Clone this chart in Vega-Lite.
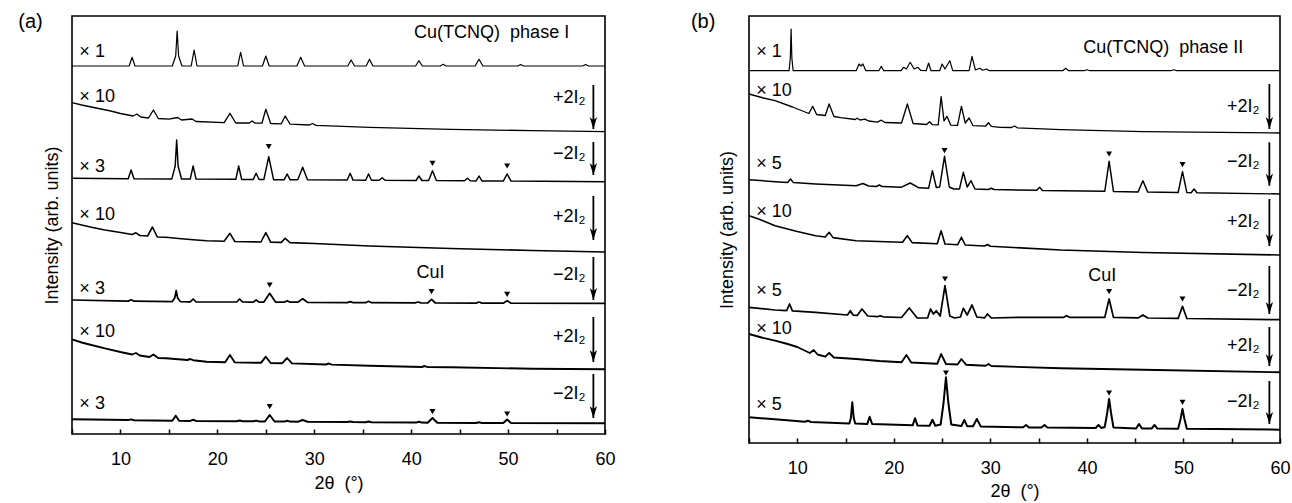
{
"$schema":"https://vega.github.io/schema/vega-lite/v6.json",
"padding":{"left":17,"top":11,"right":5,"bottom":0},
"spacing":74,
"config":{"font":"Liberation Sans","view":{"stroke":"black","strokeWidth":1.6},
 "axis":{"grid":false,"domain":false,"labelColor":"black","titleColor":"black","tickColor":"black","labelFont":"Liberation Sans","titleFont":"Liberation Sans","titleFontWeight":"normal","labelFontSize":18,"titleFontSize":18},
 "text":{"color":"black","font":"Liberation Sans"}},
"datasets":{
"a":[
{"s":1,"x":5,"y":368},{"s":1,"x":10.9,"y":368},{"s":1,"x":11.2,"y":376.7},{"s":1,"x":11.5,"y":368},{"s":1,"x":15.35,"y":368},{"s":1,"x":15.7,"y":378},{"s":1,"x":15.85,"y":403},{"s":1,"x":16.0,"y":378},{"s":1,"x":16.35,"y":368},{"s":1,"x":17.3,"y":368},{"s":1,"x":17.6,"y":384},{"s":1,"x":17.9,"y":368},{"s":1,"x":22.1,"y":368},{"s":1,"x":22.4,"y":381.7},{"s":1,"x":22.7,"y":368},{"s":1,"x":24.65,"y":368},{"s":1,"x":25.0,"y":378},{"s":1,"x":25.35,"y":368},{"s":1,"x":28.2,"y":368},{"s":1,"x":28.6,"y":376.7},{"s":1,"x":29.0,"y":368},{"s":1,"x":33.45,"y":368},{"s":1,"x":33.8,"y":374},{"s":1,"x":34.15,"y":368},{"s":1,"x":35.35,"y":368},{"s":1,"x":35.7,"y":374.7},{"s":1,"x":36.05,"y":368},{"s":1,"x":40.45,"y":368},{"s":1,"x":40.8,"y":373.3},{"s":1,"x":41.15,"y":368},{"s":1,"x":43.0,"y":368},{"s":1,"x":43.3,"y":369.7},{"s":1,"x":43.6,"y":368},{"s":1,"x":46.6,"y":368},{"s":1,"x":47.0,"y":374.7},{"s":1,"x":47.4,"y":368},{"s":1,"x":51.0,"y":368},{"s":1,"x":51.3,"y":369.5},{"s":1,"x":51.6,"y":368},{"s":1,"x":57.7,"y":368},{"s":1,"x":58.0,"y":369.5},{"s":1,"x":58.3,"y":368},{"s":1,"x":60,"y":368},
{"s":2,"x":5,"y":331.3},{"s":2,"x":6,"y":329},{"s":2,"x":7,"y":327},{"s":2,"x":8,"y":325},{"s":2,"x":9,"y":323},{"s":2,"x":10,"y":320.5},{"s":2,"x":11.3,"y":318},{"s":2,"x":11.7,"y":320},{"s":2,"x":12.1,"y":317},{"s":2,"x":12.9,"y":316},{"s":2,"x":13.4,"y":324},{"s":2,"x":13.9,"y":315.5},{"s":2,"x":15,"y":314.8},{"s":2,"x":15.9,"y":316.5},{"s":2,"x":16.3,"y":314},{"s":2,"x":17.4,"y":315},{"s":2,"x":17.8,"y":312.5},{"s":2,"x":20.7,"y":311.3},{"s":2,"x":21.3,"y":320.7},{"s":2,"x":21.9,"y":311},{"s":2,"x":23.3,"y":311},{"s":2,"x":23.6,"y":313},{"s":2,"x":23.9,"y":310.8},{"s":2,"x":24.6,"y":310.8},{"s":2,"x":25.0,"y":324.7},{"s":2,"x":25.5,"y":310.5},{"s":2,"x":26.6,"y":310.2},{"s":2,"x":27.0,"y":318},{"s":2,"x":27.5,"y":309.8},{"s":2,"x":29.5,"y":309},{"s":2,"x":29.8,"y":310.5},{"s":2,"x":30.2,"y":308.6},{"s":2,"x":35.7,"y":306.7},{"s":2,"x":44.1,"y":304.7},{"s":2,"x":52.5,"y":303.3},{"s":2,"x":60,"y":302.3},
{"s":3,"x":5,"y":255.7},{"s":3,"x":10.8,"y":255.3},{"s":3,"x":11.1,"y":264},{"s":3,"x":11.4,"y":255.3},{"s":3,"x":15.3,"y":255.1},{"s":3,"x":15.65,"y":268},{"s":3,"x":15.8,"y":294},{"s":3,"x":15.95,"y":268},{"s":3,"x":16.3,"y":255},{"s":3,"x":17.2,"y":254.9},{"s":3,"x":17.5,"y":268},{"s":3,"x":17.8,"y":254.9},{"s":3,"x":21.9,"y":254.7},{"s":3,"x":22.2,"y":268},{"s":3,"x":22.5,"y":254.6},{"s":3,"x":23.7,"y":254.6},{"s":3,"x":24.0,"y":260.7},{"s":3,"x":24.3,"y":254.5},{"s":3,"x":24.8,"y":254.5},{"s":3,"x":25.3,"y":277.3},{"s":3,"x":25.8,"y":254.3},{"s":3,"x":26.9,"y":254.3},{"s":3,"x":27.2,"y":260},{"s":3,"x":27.5,"y":254.3},{"s":3,"x":28.3,"y":254.2},{"s":3,"x":28.8,"y":266.7},{"s":3,"x":29.3,"y":254.2},{"s":3,"x":33.4,"y":254},{"s":3,"x":33.7,"y":260.7},{"s":3,"x":34.0,"y":253.9},{"s":3,"x":35.3,"y":253.8},{"s":3,"x":35.6,"y":260},{"s":3,"x":35.9,"y":253.8},{"s":3,"x":36.7,"y":253.7},{"s":3,"x":37.0,"y":256.3},{"s":3,"x":37.3,"y":253.7},{"s":3,"x":40.5,"y":253.5},{"s":3,"x":40.8,"y":258},{"s":3,"x":41.1,"y":253.5},{"s":3,"x":41.8,"y":253.4},{"s":3,"x":42.2,"y":263.3},{"s":3,"x":42.6,"y":253.4},{"s":3,"x":45.5,"y":253.2},{"s":3,"x":45.8,"y":255.7},{"s":3,"x":46.1,"y":253.2},{"s":3,"x":46.7,"y":253.1},{"s":3,"x":47.0,"y":258},{"s":3,"x":47.3,"y":253.1},{"s":3,"x":49.5,"y":252.9},{"s":3,"x":49.9,"y":260},{"s":3,"x":50.3,"y":252.9},{"s":3,"x":60,"y":252.3},
{"s":4,"x":5,"y":211.3},{"s":4,"x":6,"y":209},{"s":4,"x":7,"y":206.7},{"s":4,"x":8.4,"y":204},{"s":4,"x":10,"y":201.5},{"s":4,"x":11.2,"y":199.5},{"s":4,"x":11.6,"y":201.2},{"s":4,"x":12,"y":198.5},{"s":4,"x":12.8,"y":198},{"s":4,"x":13.3,"y":207},{"s":4,"x":13.8,"y":197},{"s":4,"x":14.7,"y":196.7},{"s":4,"x":16,"y":195.5},{"s":4,"x":17.5,"y":194.3},{"s":4,"x":18.9,"y":193.3},{"s":4,"x":20.7,"y":192.8},{"s":4,"x":21.3,"y":200.7},{"s":4,"x":21.8,"y":192.5},{"s":4,"x":24.5,"y":192},{"s":4,"x":25.0,"y":201.3},{"s":4,"x":25.5,"y":191.8},{"s":4,"x":26.6,"y":191.6},{"s":4,"x":27.0,"y":195.7},{"s":4,"x":27.5,"y":191.4},{"s":4,"x":30,"y":190.5},{"s":4,"x":35.7,"y":188},{"s":4,"x":44.1,"y":185.5},{"s":4,"x":52.5,"y":183.5},{"s":4,"x":60,"y":182},
{"s":5,"x":5,"y":134},{"s":5,"x":10.8,"y":132.9},{"s":5,"x":11.1,"y":134.3},{"s":5,"x":11.4,"y":132.8},{"s":5,"x":15.35,"y":132.4},{"s":5,"x":15.6,"y":136},{"s":5,"x":15.75,"y":143.3},{"s":5,"x":15.9,"y":136},{"s":5,"x":16.2,"y":132.3},{"s":5,"x":17.2,"y":132.2},{"s":5,"x":17.5,"y":135},{"s":5,"x":17.8,"y":132.2},{"s":5,"x":22.0,"y":132},{"s":5,"x":22.3,"y":135},{"s":5,"x":22.6,"y":132},{"s":5,"x":23.7,"y":131.9},{"s":5,"x":24.0,"y":134},{"s":5,"x":24.3,"y":131.9},{"s":5,"x":24.8,"y":131.9},{"s":5,"x":25.4,"y":140.7},{"s":5,"x":26.0,"y":131.9},{"s":5,"x":26.9,"y":131.8},{"s":5,"x":27.2,"y":133.3},{"s":5,"x":27.5,"y":131.8},{"s":5,"x":28.3,"y":131.8},{"s":5,"x":28.8,"y":135.3},{"s":5,"x":29.3,"y":131.7},{"s":5,"x":33.4,"y":131.4},{"s":5,"x":33.7,"y":132.3},{"s":5,"x":34.0,"y":131.4},{"s":5,"x":35.3,"y":131.3},{"s":5,"x":35.6,"y":132.7},{"s":5,"x":35.9,"y":131.3},{"s":5,"x":40.4,"y":131.1},{"s":5,"x":40.7,"y":132},{"s":5,"x":41.0,"y":131.1},{"s":5,"x":41.7,"y":131},{"s":5,"x":42.1,"y":134.7},{"s":5,"x":42.5,"y":131},{"s":5,"x":46.7,"y":130.9},{"s":5,"x":47.0,"y":132},{"s":5,"x":47.3,"y":130.9},{"s":5,"x":49.5,"y":130.8},{"s":5,"x":49.9,"y":133.3},{"s":5,"x":50.3,"y":130.8},{"s":5,"x":60,"y":130.7},
{"s":6,"x":5,"y":94.7},{"s":6,"x":6,"y":91.5},{"s":6,"x":7,"y":89},{"s":6,"x":8.4,"y":85.7},{"s":6,"x":10,"y":82},{"s":6,"x":11.2,"y":79.5},{"s":6,"x":11.6,"y":81},{"s":6,"x":12,"y":78.5},{"s":6,"x":13,"y":77},{"s":6,"x":13.4,"y":79.5},{"s":6,"x":13.9,"y":76},{"s":6,"x":14.7,"y":75.7},{"s":6,"x":16.9,"y":74},{"s":6,"x":17.2,"y":75},{"s":6,"x":17.5,"y":73.8},{"s":6,"x":18.9,"y":72.3},{"s":6,"x":20.8,"y":71.8},{"s":6,"x":21.3,"y":79},{"s":6,"x":21.8,"y":71.6},{"s":6,"x":24.5,"y":71.2},{"s":6,"x":25.0,"y":77.3},{"s":6,"x":25.5,"y":71},{"s":6,"x":26.7,"y":70.8},{"s":6,"x":27.2,"y":76},{"s":6,"x":27.7,"y":70.6},{"s":6,"x":31.2,"y":69.5},{"s":6,"x":31.5,"y":70.5},{"s":6,"x":31.8,"y":69.4},{"s":6,"x":35.7,"y":68.3},{"s":6,"x":41.1,"y":67},{"s":6,"x":41.4,"y":68},{"s":6,"x":41.7,"y":66.9},{"s":6,"x":44.1,"y":66.7},{"s":6,"x":52.5,"y":65.3},{"s":6,"x":60,"y":64.7},
{"s":7,"x":5,"y":14.7},{"s":7,"x":10.8,"y":13.9},{"s":7,"x":11.1,"y":14.6},{"s":7,"x":11.4,"y":13.8},{"s":7,"x":15.35,"y":13.3},{"s":7,"x":15.7,"y":18.3},{"s":7,"x":16.05,"y":13.2},{"s":7,"x":17.2,"y":13.1},{"s":7,"x":17.5,"y":14.2},{"s":7,"x":17.8,"y":13.1},{"s":7,"x":22.0,"y":12.8},{"s":7,"x":22.3,"y":13.5},{"s":7,"x":22.6,"y":12.8},{"s":7,"x":23.7,"y":12.7},{"s":7,"x":24.0,"y":13.4},{"s":7,"x":24.3,"y":12.6},{"s":7,"x":24.9,"y":12.5},{"s":7,"x":25.4,"y":19},{"s":7,"x":25.9,"y":12.5},{"s":7,"x":26.9,"y":12.4},{"s":7,"x":27.2,"y":13.3},{"s":7,"x":27.5,"y":12.4},{"s":7,"x":28.3,"y":12.3},{"s":7,"x":28.8,"y":14},{"s":7,"x":29.3,"y":12.3},{"s":7,"x":33.4,"y":11.9},{"s":7,"x":33.7,"y":12.4},{"s":7,"x":34.0,"y":11.9},{"s":7,"x":35.3,"y":11.8},{"s":7,"x":35.6,"y":12.4},{"s":7,"x":35.9,"y":11.8},{"s":7,"x":40.5,"y":11.4},{"s":7,"x":40.8,"y":12.2},{"s":7,"x":41.1,"y":11.4},{"s":7,"x":41.7,"y":11.3},{"s":7,"x":42.2,"y":16},{"s":7,"x":42.7,"y":11.3},{"s":7,"x":46.7,"y":11},{"s":7,"x":47,"y":11.7},{"s":7,"x":47.3,"y":11},{"s":7,"x":49.5,"y":10.9},{"s":7,"x":49.9,"y":14.5},{"s":7,"x":50.3,"y":10.9},{"s":7,"x":60,"y":10.7}
],
"b":[
{"s":1,"x":5,"y":372.3},{"s":1,"x":9.15,"y":372.3},{"s":1,"x":9.28,"y":385},{"s":1,"x":9.36,"y":414},{"s":1,"x":9.44,"y":385},{"s":1,"x":9.57,"y":372.3},{"s":1,"x":16.1,"y":372.3},{"s":1,"x":16.4,"y":379},{"s":1,"x":16.6,"y":377},{"s":1,"x":16.8,"y":379},{"s":1,"x":17.1,"y":372.3},{"s":1,"x":18.45,"y":372.3},{"s":1,"x":18.7,"y":376.7},{"s":1,"x":18.95,"y":372.3},{"s":1,"x":20.75,"y":372.3},{"s":1,"x":21.0,"y":375.7},{"s":1,"x":21.3,"y":374},{"s":1,"x":21.7,"y":380.7},{"s":1,"x":22.1,"y":374},{"s":1,"x":22.5,"y":375.7},{"s":1,"x":22.8,"y":372.5},{"s":1,"x":23.35,"y":372.3},{"s":1,"x":23.6,"y":380},{"s":1,"x":23.85,"y":372.3},{"s":1,"x":24.75,"y":372.3},{"s":1,"x":25.0,"y":379},{"s":1,"x":25.3,"y":374},{"s":1,"x":25.8,"y":382.3},{"s":1,"x":26.1,"y":372.3},{"s":1,"x":27.8,"y":372.3},{"s":1,"x":28.1,"y":386.7},{"s":1,"x":28.45,"y":373},{"s":1,"x":28.9,"y":374.7},{"s":1,"x":29.2,"y":372.8},{"s":1,"x":29.6,"y":374},{"s":1,"x":29.9,"y":372.3},{"s":1,"x":37.5,"y":372.3},{"s":1,"x":37.8,"y":374.7},{"s":1,"x":38.1,"y":372.3},{"s":1,"x":39.7,"y":372.3},{"s":1,"x":40.0,"y":373.3},{"s":1,"x":40.3,"y":372.3},{"s":1,"x":48.7,"y":372.3},{"s":1,"x":49.0,"y":373.3},{"s":1,"x":49.3,"y":372.3},{"s":1,"x":60,"y":372.3},
{"s":2,"x":5,"y":349},{"s":2,"x":6.5,"y":345},{"s":2,"x":7.7,"y":342.3},{"s":2,"x":9.5,"y":336},{"s":2,"x":11.2,"y":329.5},{"s":2,"x":11.6,"y":336.7},{"s":2,"x":12.0,"y":328.5},{"s":2,"x":12.9,"y":327.5},{"s":2,"x":13.3,"y":339},{"s":2,"x":13.8,"y":326.5},{"s":2,"x":14.5,"y":325.3},{"s":2,"x":16.0,"y":323.5},{"s":2,"x":16.2,"y":324.8},{"s":2,"x":16.5,"y":323},{"s":2,"x":17.0,"y":323.8},{"s":2,"x":17.4,"y":322},{"s":2,"x":18.3,"y":320.9},{"s":2,"x":18.7,"y":322.8},{"s":2,"x":19.1,"y":320.5},{"s":2,"x":20.8,"y":320},{"s":2,"x":21.4,"y":339},{"s":2,"x":22.0,"y":319.5},{"s":2,"x":23.4,"y":318.5},{"s":2,"x":23.7,"y":321.3},{"s":2,"x":24.0,"y":318.3},{"s":2,"x":24.6,"y":318.2},{"s":2,"x":24.9,"y":346.3},{"s":2,"x":25.2,"y":322},{"s":2,"x":25.5,"y":326.7},{"s":2,"x":25.9,"y":317.8},{"s":2,"x":26.6,"y":317.7},{"s":2,"x":27.0,"y":336.7},{"s":2,"x":27.4,"y":320},{"s":2,"x":27.8,"y":325},{"s":2,"x":28.2,"y":317.3},{"s":2,"x":29.5,"y":316.8},{"s":2,"x":29.8,"y":320.3},{"s":2,"x":30.1,"y":316.6},{"s":2,"x":31,"y":315.7},{"s":2,"x":32.2,"y":315.5},{"s":2,"x":32.5,"y":317},{"s":2,"x":32.8,"y":315.2},{"s":2,"x":37.3,"y":313.3},{"s":2,"x":45.8,"y":311.3},{"s":2,"x":60,"y":310},
{"s":3,"x":5,"y":263.3},{"s":3,"x":7.7,"y":261.3},{"s":3,"x":9.0,"y":260.6},{"s":3,"x":9.3,"y":264},{"s":3,"x":9.6,"y":260.4},{"s":3,"x":11.9,"y":259},{"s":3,"x":16.1,"y":257.3},{"s":3,"x":16.8,"y":259.5},{"s":3,"x":17.4,"y":257},{"s":3,"x":18.2,"y":256.5},{"s":3,"x":18.5,"y":258},{"s":3,"x":18.8,"y":256.4},{"s":3,"x":20.8,"y":255.8},{"s":3,"x":21.7,"y":260},{"s":3,"x":22.6,"y":255.2},{"s":3,"x":23.6,"y":254.7},{"s":3,"x":24.0,"y":272.3},{"s":3,"x":24.4,"y":255.5},{"s":3,"x":24.75,"y":256},{"s":3,"x":25.25,"y":286.7},{"s":3,"x":25.75,"y":256},{"s":3,"x":26.2,"y":254},{"s":3,"x":26.8,"y":254},{"s":3,"x":27.2,"y":270.7},{"s":3,"x":27.6,"y":256},{"s":3,"x":28.0,"y":262.3},{"s":3,"x":28.4,"y":254},{"s":3,"x":29.8,"y":253.5},{"s":3,"x":30.1,"y":254.7},{"s":3,"x":30.4,"y":253.5},{"s":3,"x":34.8,"y":252.7},{"s":3,"x":35.1,"y":255.7},{"s":3,"x":35.4,"y":252.6},{"s":3,"x":41.85,"y":251.7},{"s":3,"x":42.3,"y":281.7},{"s":3,"x":42.75,"y":251.6},{"s":3,"x":45.3,"y":251.1},{"s":3,"x":45.8,"y":262.3},{"s":3,"x":46.3,"y":250.9},{"s":3,"x":49.45,"y":250.5},{"s":3,"x":49.9,"y":271.3},{"s":3,"x":50.35,"y":250.4},{"s":3,"x":50.8,"y":250.3},{"s":3,"x":51.1,"y":254},{"s":3,"x":51.4,"y":250.2},{"s":3,"x":60,"y":249},
{"s":4,"x":5,"y":227.3},{"s":4,"x":6,"y":224},{"s":4,"x":7.7,"y":217.3},{"s":4,"x":10,"y":211.5},{"s":4,"x":11.9,"y":207.3},{"s":4,"x":12.9,"y":206},{"s":4,"x":13.3,"y":210.7},{"s":4,"x":13.7,"y":205.4},{"s":4,"x":16.1,"y":202.3},{"s":4,"x":20,"y":201},{"s":4,"x":20.9,"y":200.8},{"s":4,"x":21.4,"y":207.3},{"s":4,"x":21.9,"y":200.4},{"s":4,"x":24.5,"y":199.3},{"s":4,"x":24.9,"y":212.3},{"s":4,"x":25.3,"y":199},{"s":4,"x":26.6,"y":198.2},{"s":4,"x":27.0,"y":205.7},{"s":4,"x":27.4,"y":198},{"s":4,"x":29.4,"y":197},{"s":4,"x":29.7,"y":198.5},{"s":4,"x":30.0,"y":196.8},{"s":4,"x":37.3,"y":193},{"s":4,"x":45.8,"y":190.5},{"s":4,"x":60,"y":188},
{"s":5,"x":5,"y":135.7},{"s":5,"x":7.7,"y":133},{"s":5,"x":8.9,"y":132.4},{"s":5,"x":9.2,"y":139},{"s":5,"x":9.5,"y":132.2},{"s":5,"x":11.9,"y":130.7},{"s":5,"x":15.2,"y":128},{"s":5,"x":15.5,"y":132.3},{"s":5,"x":15.8,"y":127.8},{"s":5,"x":16.2,"y":127.6},{"s":5,"x":16.7,"y":134},{"s":5,"x":17.3,"y":127},{"s":5,"x":18.3,"y":126.3},{"s":5,"x":18.6,"y":127.3},{"s":5,"x":18.9,"y":126.2},{"s":5,"x":20.8,"y":125.5},{"s":5,"x":21.6,"y":135},{"s":5,"x":22.4,"y":125.2},{"s":5,"x":23.5,"y":125},{"s":5,"x":23.8,"y":134},{"s":5,"x":24.1,"y":129},{"s":5,"x":24.4,"y":132.3},{"s":5,"x":24.8,"y":127},{"s":5,"x":25.3,"y":157.3},{"s":5,"x":25.8,"y":127},{"s":5,"x":26.3,"y":125},{"s":5,"x":26.9,"y":126},{"s":5,"x":27.2,"y":134.7},{"s":5,"x":27.6,"y":128},{"s":5,"x":28.1,"y":138},{"s":5,"x":28.6,"y":126},{"s":5,"x":29.4,"y":125.2},{"s":5,"x":29.7,"y":129},{"s":5,"x":30.1,"y":125},{"s":5,"x":33.1,"y":125.7},{"s":5,"x":37.6,"y":125.7},{"s":5,"x":37.9,"y":127.3},{"s":5,"x":38.2,"y":125.7},{"s":5,"x":41.85,"y":125.6},{"s":5,"x":42.3,"y":144},{"s":5,"x":42.75,"y":125.6},{"s":5,"x":45.3,"y":125.1},{"s":5,"x":45.8,"y":128},{"s":5,"x":46.3,"y":125},{"s":5,"x":49.45,"y":124.6},{"s":5,"x":49.9,"y":136.7},{"s":5,"x":50.35,"y":124.5},{"s":5,"x":60,"y":123.3},
{"s":6,"x":5,"y":109},{"s":6,"x":6.3,"y":105.5},{"s":6,"x":7.7,"y":102.3},{"s":6,"x":9,"y":99},{"s":6,"x":10,"y":96},{"s":6,"x":11.3,"y":90},{"s":6,"x":11.7,"y":93},{"s":6,"x":12.1,"y":88.5},{"s":6,"x":12.9,"y":86.3},{"s":6,"x":13.3,"y":90},{"s":6,"x":13.8,"y":85.5},{"s":6,"x":16.1,"y":84},{"s":6,"x":18.5,"y":82},{"s":6,"x":20.8,"y":80.8},{"s":6,"x":21.3,"y":88},{"s":6,"x":21.8,"y":80.5},{"s":6,"x":24.5,"y":79.2},{"s":6,"x":24.9,"y":89},{"s":6,"x":25.4,"y":79},{"s":6,"x":26.6,"y":78.5},{"s":6,"x":27.0,"y":84},{"s":6,"x":27.5,"y":78.2},{"s":6,"x":29.5,"y":77.2},{"s":6,"x":29.8,"y":79},{"s":6,"x":30.1,"y":77},{"s":6,"x":37.3,"y":74.7},{"s":6,"x":45.8,"y":73.3},{"s":6,"x":60,"y":70.7},
{"s":7,"x":5,"y":25.7},{"s":7,"x":8,"y":23.5},{"s":7,"x":10.8,"y":21.3},{"s":7,"x":11.1,"y":22.3},{"s":7,"x":11.4,"y":21},{"s":7,"x":15.4,"y":19.6},{"s":7,"x":15.55,"y":25},{"s":7,"x":15.7,"y":40.7},{"s":7,"x":15.85,"y":25},{"s":7,"x":16.0,"y":19.5},{"s":7,"x":17.25,"y":19.1},{"s":7,"x":17.5,"y":26.3},{"s":7,"x":17.75,"y":19},{"s":7,"x":21.95,"y":17.7},{"s":7,"x":22.2,"y":24.7},{"s":7,"x":22.45,"y":17.6},{"s":7,"x":23.7,"y":17.3},{"s":7,"x":24.0,"y":23.3},{"s":7,"x":24.3,"y":17.2},{"s":7,"x":24.85,"y":18.5},{"s":7,"x":25.15,"y":40},{"s":7,"x":25.4,"y":65.7},{"s":7,"x":25.65,"y":40},{"s":7,"x":25.95,"y":18.5},{"s":7,"x":27.0,"y":16.9},{"s":7,"x":27.3,"y":23},{"s":7,"x":27.6,"y":16.8},{"s":7,"x":28.2,"y":16.7},{"s":7,"x":28.6,"y":24},{"s":7,"x":29.0,"y":16.6},{"s":7,"x":33.4,"y":15.7},{"s":7,"x":33.7,"y":18},{"s":7,"x":34.0,"y":15.6},{"s":7,"x":35.3,"y":15.5},{"s":7,"x":35.6,"y":18},{"s":7,"x":35.9,"y":15.4},{"s":7,"x":40.9,"y":15},{"s":7,"x":41.2,"y":18},{"s":7,"x":41.5,"y":15},{"s":7,"x":41.85,"y":16},{"s":7,"x":42.1,"y":30},{"s":7,"x":42.3,"y":44},{"s":7,"x":42.5,"y":30},{"s":7,"x":42.75,"y":15.5},{"s":7,"x":45.1,"y":14.6},{"s":7,"x":45.4,"y":19},{"s":7,"x":45.7,"y":14.5},{"s":7,"x":46.7,"y":14.4},{"s":7,"x":47,"y":18},{"s":7,"x":47.3,"y":14.4},{"s":7,"x":49.45,"y":14.3},{"s":7,"x":49.7,"y":24},{"s":7,"x":49.9,"y":34},{"s":7,"x":50.1,"y":24},{"s":7,"x":50.35,"y":14.2},{"s":7,"x":60,"y":13.3}
],
"ma":[{"x":25.3,"y":287.3},{"x":42.2,"y":270.7},{"x":49.9,"y":268},{"x":25.4,"y":149},{"x":42.1,"y":142.3},{"x":49.9,"y":139.7},{"x":25.4,"y":27.3},{"x":42.2,"y":22.3},{"x":49.9,"y":20}],
"mb":[{"x":25.25,"y":292.3},{"x":42.3,"y":289},{"x":49.9,"y":278.3},{"x":25.3,"y":164},{"x":42.3,"y":151.3},{"x":49.9,"y":144},{"x":25.4,"y":70},{"x":42.3,"y":50},{"x":49.9,"y":40.7}],
"ta":[{"t":"(a)","k":"p","x":0.72,"y":412},{"t":"× 1","k":"s","x":5.76,"y":382},{"t":"Cu(TCNQ)\u00a0\u00a0phase I","k":"c","x":48.3,"y":401},{"t":"× 10","k":"s","x":5.76,"y":337},{"t":"+2I₂","k":"c","x":56.3,"y":336},{"t":"× 3","k":"s","x":5.76,"y":267},{"t":"−2I₂","k":"c","x":56.3,"y":280},{"t":"× 10","k":"s","x":5.76,"y":219},{"t":"+2I₂","k":"c","x":56.3,"y":217},{"t":"× 3","k":"s","x":5.76,"y":145},{"t":"CuI","k":"c","x":42,"y":161},{"t":"−2I₂","k":"c","x":56.3,"y":159},{"t":"× 10","k":"s","x":5.76,"y":102},{"t":"+2I₂","k":"c","x":56.3,"y":97},{"t":"× 3","k":"s","x":5.76,"y":30},{"t":"−2I₂","k":"c","x":56.3,"y":40}],
"tb":[{"t":"(b)","k":"p","x":0.25,"y":421},{"t":"× 1","k":"s","x":5.76,"y":391},{"t":"Cu(TCNQ)\u00a0\u00a0phase II","k":"c","x":47.9,"y":395},{"t":"× 10","k":"s","x":5.76,"y":352},{"t":"+2I₂","k":"c","x":56.2,"y":336},{"t":"× 5","k":"s","x":5.76,"y":279},{"t":"−2I₂","k":"c","x":56.2,"y":281},{"t":"× 10","k":"s","x":5.76,"y":231},{"t":"+2I₂","k":"c","x":56.2,"y":221},{"t":"× 5","k":"s","x":5.76,"y":152},{"t":"CuI","k":"c","x":41.6,"y":167},{"t":"−2I₂","k":"c","x":56.2,"y":152},{"t":"× 10","k":"s","x":5.76,"y":114},{"t":"+2I₂","k":"c","x":56.2,"y":97},{"t":"× 5","k":"s","x":5.76,"y":38},{"t":"−2I₂","k":"c","x":56.2,"y":41}],
"ra":[{"x":58.8,"y":349,"y2":305},{"x":58.8,"y":292,"y2":259},{"x":58.8,"y":238,"y2":194},{"x":58.8,"y":177,"y2":134},{"x":58.8,"y":117,"y2":72},{"x":58.8,"y":60,"y2":16}],
"rb":[{"x":58.9,"y":359,"y2":314},{"x":58.9,"y":300.7,"y2":257.3},{"x":58.9,"y":244,"y2":197},{"x":58.9,"y":177,"y2":129},{"x":58.9,"y":116,"y2":77},{"x":58.9,"y":62,"y2":19}]
},
"hconcat":[
{"width":533,"height":418,
 "layer":[
  {"data":{"name":"a"},"mark":{"type":"line","color":"black","strokeJoin":"round"},
   "encoding":{
    "x":{"field":"x","type":"quantitative","scale":{"domain":[5,60],"nice":false,"zero":false},
         "axis":{"title":"2θ\u00a0\u00a0(°)","values":[5,10,15,20,25,30,35,40,45,50,55,60],"tickSize":-5,"tickWidth":1.5,"labelFlush":false,"labelPadding":21,"titlePadding":6,"labelExpr":"datum.value % 10 === 0 ? datum.label : ''"}},
    "y":{"field":"y","type":"quantitative","scale":{"domain":[0,418],"nice":false},
         "axis":{"title":"Intensity (arb. units)","labels":false,"ticks":false,"titlePadding":11}},
    "detail":{"field":"s"},
    "strokeWidth":{"field":"s","type":"ordinal","scale":{"domain":[1,2,3,4,5,6,7],"range":[1.2,2,1.2,2,1.2,2,1.2]},"legend":null}}},
  {"data":{"name":"ma"},"mark":{"type":"point","shape":"triangle-down","filled":true,"color":"black","size":36,"opacity":1},
   "encoding":{"x":{"field":"x","type":"quantitative"},"y":{"field":"y","type":"quantitative"}}},
  {"data":{"name":"ra"},"mark":{"type":"rule","color":"black","strokeWidth":1.8},
   "encoding":{"x":{"field":"x","type":"quantitative"},"y":{"field":"y","type":"quantitative"},"y2":{"field":"y2"}}},
  {"data":{"name":"ra"},"mark":{"type":"point","shape":"M0,1L-0.6,-1L0,-0.45L0.6,-1Z","filled":true,"color":"black","size":150,"opacity":1,"yOffset":-6},
   "encoding":{"x":{"field":"x","type":"quantitative"},"y":{"field":"y2","type":"quantitative"}}},
  {"data":{"name":"ta"},"transform":[{"filter":"datum.k === 's'"}],"mark":{"type":"text","align":"left","baseline":"middle","fontSize":18},
   "encoding":{"x":{"field":"x","type":"quantitative"},"y":{"field":"y","type":"quantitative"},"text":{"field":"t"}}},
  {"data":{"name":"ta"},"transform":[{"filter":"datum.k !== 's'"}],"mark":{"type":"text","align":"center","baseline":"middle"},
   "encoding":{"x":{"field":"x","type":"quantitative"},"y":{"field":"y","type":"quantitative"},"text":{"field":"t"},
    "size":{"condition":{"test":"datum.k === 'p'","value":20},"value":18}}}
 ]},
{"width":531,"height":427,
 "layer":[
  {"data":{"name":"b"},"mark":{"type":"line","color":"black","strokeJoin":"round"},
   "encoding":{
    "x":{"field":"x","type":"quantitative","scale":{"domain":[5,60],"nice":false,"zero":false},
         "axis":{"title":"2θ\u00a0\u00a0(°)","values":[5,10,15,20,25,30,35,40,45,50,55,60],"tickSize":-5,"tickWidth":1.5,"labelFlush":false,"labelPadding":21,"titlePadding":5,"labelExpr":"datum.value % 10 === 0 ? datum.label : ''"}},
    "y":{"field":"y","type":"quantitative","scale":{"domain":[0,427],"nice":false},
         "axis":{"title":"Intensity (arb. units)","labels":false,"ticks":false,"titlePadding":13}},
    "detail":{"field":"s"},
    "strokeWidth":{"field":"s","type":"ordinal","scale":{"domain":[1,2,3,4,5,6,7],"range":[1.2,2,1.4,2,1.4,2,1.4]},"legend":null}}},
  {"data":{"name":"mb"},"mark":{"type":"point","shape":"triangle-down","filled":true,"color":"black","size":36,"opacity":1},
   "encoding":{"x":{"field":"x","type":"quantitative"},"y":{"field":"y","type":"quantitative"}}},
  {"data":{"name":"rb"},"mark":{"type":"rule","color":"black","strokeWidth":1.8},
   "encoding":{"x":{"field":"x","type":"quantitative"},"y":{"field":"y","type":"quantitative"},"y2":{"field":"y2"}}},
  {"data":{"name":"rb"},"mark":{"type":"point","shape":"M0,1L-0.6,-1L0,-0.45L0.6,-1Z","filled":true,"color":"black","size":150,"opacity":1,"yOffset":-6},
   "encoding":{"x":{"field":"x","type":"quantitative"},"y":{"field":"y2","type":"quantitative"}}},
  {"data":{"name":"tb"},"transform":[{"filter":"datum.k === 's'"}],"mark":{"type":"text","align":"left","baseline":"middle","fontSize":18},
   "encoding":{"x":{"field":"x","type":"quantitative"},"y":{"field":"y","type":"quantitative"},"text":{"field":"t"}}},
  {"data":{"name":"tb"},"transform":[{"filter":"datum.k !== 's'"}],"mark":{"type":"text","align":"center","baseline":"middle"},
   "encoding":{"x":{"field":"x","type":"quantitative"},"y":{"field":"y","type":"quantitative"},"text":{"field":"t"},
    "size":{"condition":{"test":"datum.k === 'p'","value":20},"value":18}}}
 ]}
]
}
